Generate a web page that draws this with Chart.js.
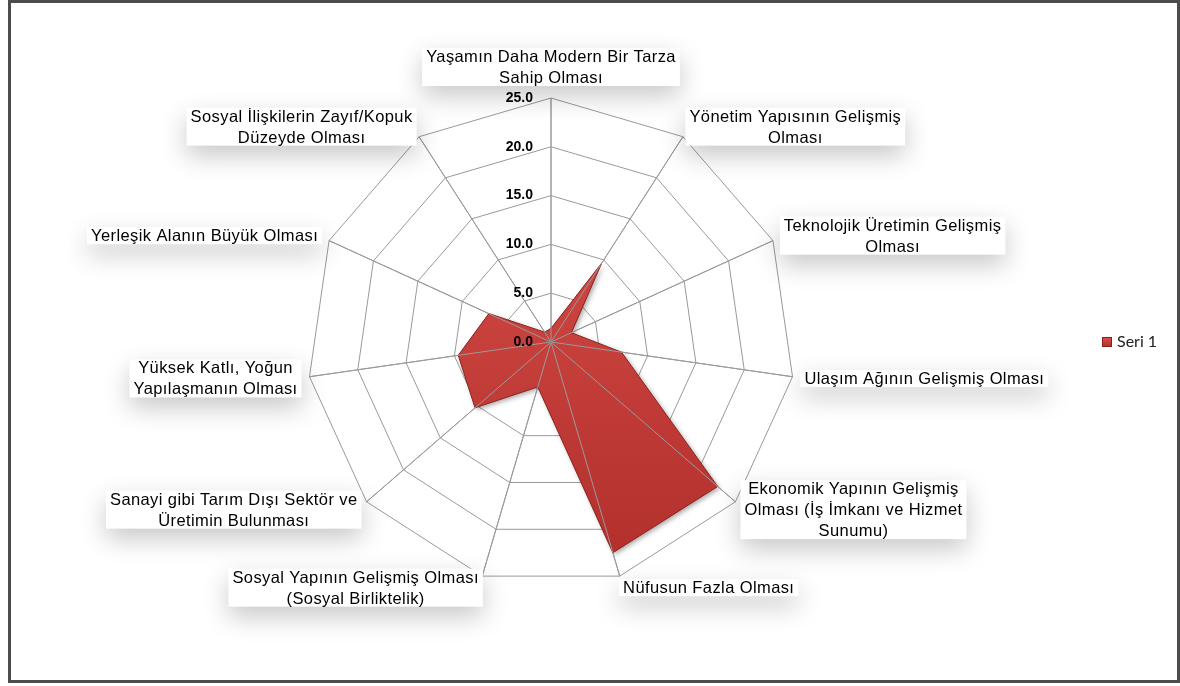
<!DOCTYPE html>
<html>
<head>
<meta charset="utf-8">
<script src="https://cdn.jsdelivr.net/npm/chart.js@4.4.1/dist/chart.umd.min.js"></script>
<style>
  html, body { margin: 0; padding: 0; background: #ffffff; overflow: hidden; }
  #wrap { position: relative; width: 1180px; height: 686px; }
  #c { position: absolute; left: 0; top: 0; }
  #frame { position: absolute; left: 8px; top: 0; width: 1172px; height: 683px;
           box-sizing: border-box; border: 3px solid #4c4c4c; pointer-events: none; }
</style>
</head>
<body>
<div id="wrap">
  <canvas id="c" width="1180" height="686"></canvas>
  <div id="frame"></div>
</div>
<script>
// ---- data ----
const CATEGORIES = [
  ['Yaşamın Daha Modern Bir Tarza', 'Sahip Olması'],
  ['Yönetim Yapısının Gelişmiş', 'Olması'],
  ['Teknolojik Üretimin Gelişmiş', 'Olması'],
  ['Ulaşım Ağının Gelişmiş Olması'],
  ['Ekonomik Yapının Gelişmiş', 'Olması (İş İmkanı ve Hizmet', 'Sunumu)'],
  ['Nüfusun Fazla Olması'],
  ['Sosyal Yapının Gelişmiş Olması', '(Sosyal Birliktelik)'],
  ['Sanayi gibi Tarım Dışı Sektör ve', 'Üretimin Bulunması'],
  ['Yüksek Katlı, Yoğun', 'Yapılaşmanın Olması'],
  ['Yerleşik Alanın Büyük Olması'],
  ['Sosyal İlişkilerin Zayıf/Kopuk', 'Düzeyde Olması']
];
const SERIES_NAME = 'Seri 1';
const SERIES_VALUES = [1.4, 9.6, 2.3, 7.3, 22.6, 22.5, 4.8, 10.3, 9.6, 7.0, 1.2];
const AXIS_MIN = 0;
const AXIS_MAX = 25;
const AXIS_STEP = 5;

// ---- styling ----
const LABEL_FONT = '16.5px "Liberation Sans", Arial, sans-serif';
const LABEL_SPACING = '0.4px';
const LABEL_LINE_H = 21;
const TICK_FONT = 'bold 14px "Liberation Sans", Arial, sans-serif';
const GRID_COLOR = '#9a9a9a';

function redGradient(ctx, y0, y1) {
  const g = ctx.createLinearGradient(0, y0, 0, y1);
  g.addColorStop(0, '#dc514c');
  g.addColorStop(1, '#b02e2b');
  return g;
}

const decorPlugin = {
  id: 'decor',
  beforeDraw(chart) {
    const ctx = chart.ctx;
    ctx.save();
    ctx.fillStyle = '#ffffff';
    ctx.fillRect(0, 0, chart.width, chart.height);
    ctx.restore();
  },
  beforeDatasetsDraw(chart) {
    const ctx = chart.ctx;
    ctx.save();
    ctx.shadowColor = 'rgba(0,0,0,0.35)';
    ctx.shadowBlur = 5;
    ctx.shadowOffsetX = 2;
    ctx.shadowOffsetY = 2;
  },
  beforeDatasetDraw(chart) {
    const ctx = chart.ctx;
    ctx.shadowColor = 'rgba(0,0,0,0)';
    ctx.shadowBlur = 0;
    ctx.shadowOffsetX = 0;
    ctx.shadowOffsetY = 0;
  },
  afterDatasetsDraw(chart) {
    const ctx = chart.ctx;
    ctx.restore();
    const scale = chart.scales.r;
    const n = chart.data.labels.length;
    const R = scale.drawingArea;
    // angle lines above the filled area
    ctx.save();
    ctx.strokeStyle = GRID_COLOR;
    ctx.lineWidth = 1;
    for (let i = 0; i < n; i++) {
      const p = scale.getPointPosition(i, R);
      ctx.beginPath();
      ctx.moveTo(scale.xCenter, scale.yCenter);
      ctx.lineTo(p.x, p.y);
      ctx.stroke();
    }
    ctx.fillStyle = '#8a8a8a';
    ctx.beginPath();
    ctx.arc(scale.xCenter, scale.yCenter, 1.5, 0, Math.PI * 2);
    ctx.fill();
    // tick labels
    ctx.font = TICK_FONT;
    ctx.fillStyle = '#000000';
    ctx.textAlign = 'right';
    ctx.textBaseline = 'middle';
    scale.ticks.forEach(t => {
      const d = scale.getDistanceFromCenterForValue(t.value);
      ctx.fillText(t.value.toFixed(1), scale.xCenter - 18, scale.yCenter - d);
    });
    ctx.restore();
  },
  afterDraw(chart) {
    const ctx = chart.ctx;
    const scale = chart.scales.r;
    const R = scale.drawingArea;
    const labels = chart.data.labels;
    ctx.save();
    ctx.font = LABEL_FONT;
    if ('letterSpacing' in ctx) ctx.letterSpacing = LABEL_SPACING;
    labels.forEach((lines, i) => {
      const p = scale.getPointPosition(i, R + 12);
      const w = Math.max(...lines.map(l => ctx.measureText(l).width));
      const h = lines.length * LABEL_LINE_H;
      const dx = p.x - scale.xCenter;
      let left, top;
      if (Math.abs(dx) < 2) {
        left = p.x - w / 2;
        top = p.y - h + 2;
      } else if (dx > 0) {
        left = p.x;
        top = p.y - h / 2;
      } else {
        left = p.x - w;
        top = p.y - h / 2;
      }
      // soft shadow behind label
      ctx.save();
      ctx.shadowColor = 'rgba(0,0,0,0.22)';
      ctx.shadowBlur = 26;
      ctx.shadowOffsetY = 10;
      ctx.fillStyle = '#ffffff';
      ctx.fillRect(left - 4, top + 2, w + 8, h - 4);
      ctx.restore();
      ctx.fillStyle = '#000000';
      ctx.textAlign = 'center';
      ctx.textBaseline = 'middle';
      lines.forEach((l, k) => {
        ctx.fillText(l, left + w / 2, top + LABEL_LINE_H * (k + 0.5) + 1);
      });
    });
    if ('letterSpacing' in ctx) ctx.letterSpacing = '0px';
    // legend
    const lx = 1102, ly = scale.yCenter;
    ctx.fillStyle = redGradient(ctx, ly - 5, ly + 5);
    ctx.fillRect(lx, ly - 5, 10, 10);
    ctx.strokeStyle = '#8b1f1c';
    ctx.lineWidth = 1;
    ctx.strokeRect(lx + 0.5, ly - 4.5, 9, 9);
    ctx.font = '16px Lato, "Liberation Sans", sans-serif';
    ctx.fillStyle = '#222222';
    ctx.textAlign = 'left';
    ctx.textBaseline = 'middle';
    ctx.fillText(chart.data.datasets[0].label, lx + 15, ly);
    ctx.restore();
  }
};

new Chart(document.getElementById('c'), {
  type: 'radar',
  data: {
    labels: CATEGORIES,
    datasets: [{
      label: SERIES_NAME,
      data: SERIES_VALUES,
      fill: true,
      backgroundColor: (c) => {
        const area = c.chart.chartArea;
        if (!area) return '#c63c38';
        return redGradient(c.chart.ctx, area.top, area.bottom);
      },
      borderColor: '#8e211e',
      borderWidth: 1,
      pointRadius: 0,
      pointHoverRadius: 0,
      tension: 0
    }]
  },
  options: {
    responsive: false,
    devicePixelRatio: 1,
    animation: false,
    events: [],
    layout: { padding: { left: 307, top: 98, right: 385, bottom: 100 } },
    plugins: { legend: { display: false }, tooltip: { enabled: false } },
    scales: {
      r: {
        min: AXIS_MIN,
        max: AXIS_MAX,
        startAngle: 0,
        ticks: { display: false, stepSize: AXIS_STEP },
        pointLabels: { display: false },
        grid: { color: GRID_COLOR, lineWidth: 1, circular: false },
        angleLines: { display: true, color: GRID_COLOR, lineWidth: 1 }
      }
    }
  },
  plugins: [decorPlugin]
});
</script>
</body>
</html>
